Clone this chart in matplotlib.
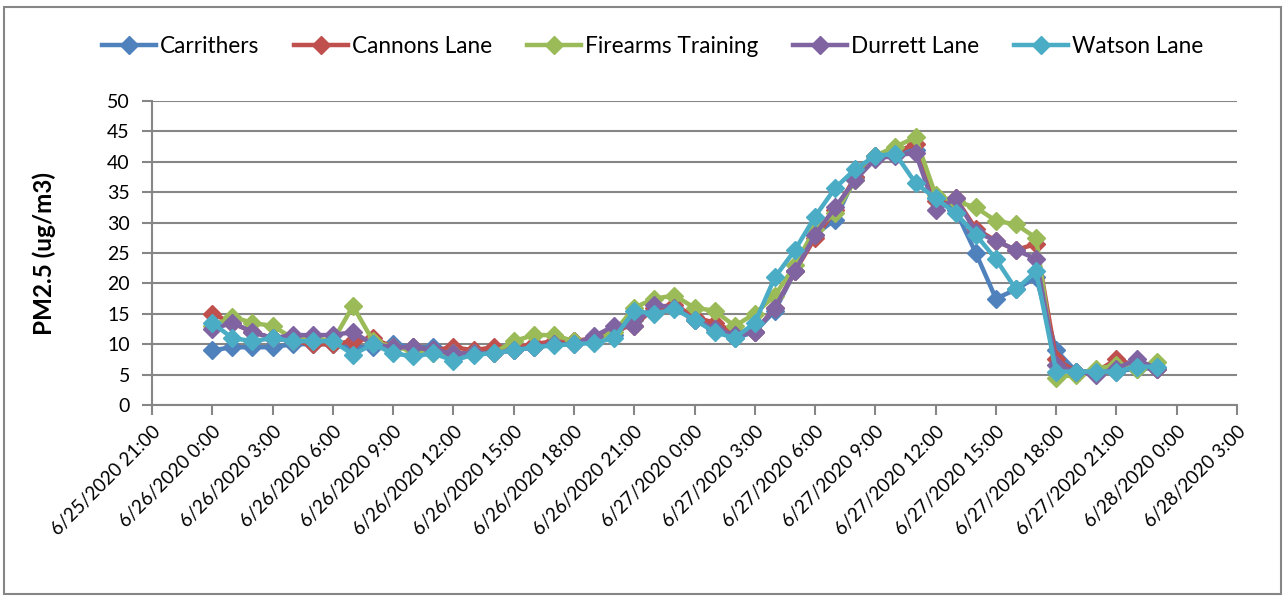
import pandas as pd
import matplotlib
matplotlib.use("Agg")
import matplotlib.pyplot as plt
from matplotlib.patches import Rectangle

# hourly PM2.5 readings, 6/26/2020 0:00 .. 6/27/2020 23:00
times = pd.date_range("2020-06-26 00:00", periods=48, freq="h")

carrithers = [9, 9.5, 9.5, 9.5, 10, 10, 10, 9.5, 9.5, 10, 9.5, 9.5,
              8.5, 8.5, 9, 9, 9.5, 10, 10.5, 10.5, 11.5, 14, 15.5, 16,
              14, 12.5, 11, 12, 15.5, 22, 28, 30.5, 37.5, 41, 41.5, 42,
              34, 32, 25, 17.5, 19, 21, 9, 5.5, 5.5, 5.5, 6, 6]
cannons = [15, 13.5, 12, 11, 10.5, 10, 10, 10.5, 11, 9.5, 9.5, 9,
           9.5, 9, 9.5, 9.5, 10, 10.5, 10.5, 11, 12.5, 13, 16, 16.5,
           14.5, 13.5, 12, 12, 16, 22, 27.5, 32, 37.5, 41, 41.5, 43,
           33.5, 34, 29, 27, 25.5, 26.5, 7.5, 5.5, 5.5, 7.5, 6.5, 6]
firearms = [13, 14.5, 13.5, 13, 11, 11, 10.5, 16.3, 10.5, 9.5, 9, 8.5,
            8.5, 8.5, 8.5, 10.5, 11.5, 11.5, 10.5, 10.5, 12, 16, 17.5, 18,
            16, 15.5, 13, 15, 18, 23, 29, 31.5, 37, 41, 42.5, 44,
            34.5, 33.5, 32.5, 30.3, 29.7, 27.5, 4.5, 5, 6, 6.5, 6, 7]
durrett = [12.5, 13.5, 12, 11, 11.5, 11.5, 11.5, 12, 10, 9.5, 9.5, 9,
           8.5, 8.5, 8.5, 9, 9.5, 10, 10, 11.3, 13, 13, 16.5, 16,
           14, 12.5, 11.5, 12, 16, 22, 28, 32.5, 37, 40.5, 41, 41.5,
           32, 34, 28.5, 27, 25.5, 24, 6.5, 5.5, 5, 6, 7.5, 6]
watson = [13.5, 11, 10.5, 11, 10.5, 10.5, 10.5, 8.3, 10, 8.5, 8, 8.5,
          7.3, 8.3, 8.5, 9, 9.5, 9.8, 10, 10.2, 11, 15.5, 15, 15.8,
          14, 12, 11, 13.5, 21, 25.5, 31, 35.7, 38.8, 41, 41.3, 36.5,
          34, 31.5, 28, 24, 19, 22, 5.5, 5.5, 5.5, 5.5, 6.3, 6.3]

names = ["Carrithers", "Cannons Lane", "Firearms Training", "Durrett Lane", "Watson Lane"]
series = [carrithers, cannons, firearms, durrett, watson]
colors = ["#4F81BD", "#C0504D", "#9BBB59", "#8064A2", "#4BACC6"]

tick_times = pd.date_range("2020-06-25 21:00", "2020-06-28 03:00", freq="3h")
tick_labels = [f"{t.month}/{t.day}/{t.year} {t.hour}:00" for t in tick_times]

plt.rcParams['font.family'] = ['Lato', 'DejaVu Sans']

fig = plt.figure(figsize=(12.84, 5.96), dpi=100)
ax = fig.add_axes([0.1184, 0.3205, 0.845, 0.510])

for name, vals, c in zip(names, series, colors):
    ax.plot(times, vals, color=c, lw=3.2, marker='D', ms=9.5,
            markeredgecolor=c, label=name)

ax.set_xlim(tick_times[0], tick_times[-1])
ax.set_ylim(0, 50)
ax.set_yticks(range(0, 51, 5))
ax.set_xticks(tick_times)
ax.set_xticklabels(tick_labels, rotation=45, ha='right', rotation_mode='anchor')
ax.tick_params(axis='both', labelsize=13.5, colors='#868686', length=7, width=1.5,
               labelcolor='black')
ax.tick_params(axis='x', pad=6)
ax.tick_params(axis='y', labelsize=14, pad=9)

ax.grid(axis='y', color='#868686', lw=1.5)
ax.set_axisbelow(True)
for s in ['top', 'right']:
    ax.spines[s].set_visible(False)
for s in ['left', 'bottom']:
    ax.spines[s].set_color('#868686')
    ax.spines[s].set_linewidth(1.5)

ax.set_ylabel("PM2.5 (ug/m3)", fontsize=17.5, fontweight='bold')
ax.yaxis.set_label_coords(-0.0885, 0.5)

fig.legend(loc='center', bbox_to_anchor=(0.508, 0.922), ncol=5, frameon=False,
           fontsize=16.3, handlelength=2.4, columnspacing=1.55, handletextpad=0.15)

fig.patches.append(Rectangle((0.003, 0.004), 0.995, 0.984, transform=fig.transFigure,
                             fill=False, edgecolor='#868686', lw=1.5))

fig.savefig("out.png", dpi=100)
